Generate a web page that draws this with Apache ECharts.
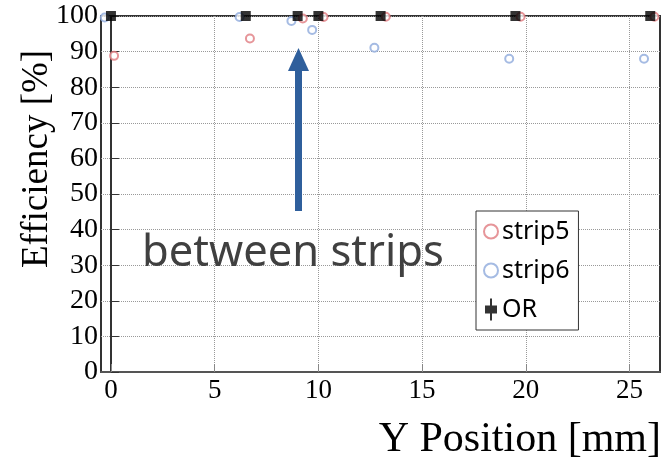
<!DOCTYPE html>
<html><head><meta charset="utf-8">
<script src="https://cdn.jsdelivr.net/npm/echarts@6/dist/echarts.min.js"></script>
<style>html,body{margin:0;padding:0;background:#fff}#c{width:664px;height:464px}</style>
</head><body><div id="c"></div>
<script>
const orX = [0, 6.5, 9, 10, 13, 19.5, 26];
const orY = [100, 100, 100, 100, 100, 100, 100];
const s5X = [0.15, 6.7, 9.25, 10.25, 13.25, 19.75, 26.2];
const s5Y = [88.8, 93.7, 99.3, 99.7, 99.8, 99.8, 99.8];
const s6X = [-0.3, 6.2, 8.7, 9.7, 12.7, 19.2, 25.7];
const s6Y = [99.6, 99.7, 98.6, 96.1, 91.1, 88.0, 88.0];
const xTicks = [0, 5, 10, 15, 20, 25];
const yTicks = [0, 10, 20, 30, 40, 50, 60, 70, 80, 90, 100];

const pairs = (xs, ys) => xs.map((x, i) => [x, ys[i]]);
const serif = 'Liberation Serif';
const red = '#e07a80', blue = '#8faadc';
const orIcon = 'path://M6,0L8,0L8,7L13,7L13,15L8,15L8,22L6,22L6,15L1,15L1,7L6,7Z';
const chart = echarts.init(document.getElementById('c'));
chart.setOption({
  animation: false,
  grid: {left: 101, top: 16, right: 4, bottom: 92, show: true, borderColor: '#333', borderWidth: 2,
         containLabel: false, outerBoundsMode: 'none'},
  xAxis: {
    type: 'value', min: -0.48, max: 26.47,
    axisLine: {lineStyle: {color: '#555', width: 2}},
    axisTick: {inside: true, length: 8, customValues: xTicks, lineStyle: {color: '#888'}},
    axisLabel: {customValues: xTicks, fontFamily: serif, fontSize: 27, color: '#000', margin: 5},
    splitLine: {show: true, lineStyle: {type: 'dotted', color: '#999'}}
  },
  yAxis: {
    type: 'value', min: 0, max: 100, interval: 10,
    axisLine: {lineStyle: {color: '#333', width: 2}},
    axisTick: {inside: true, length: 8, lineStyle: {color: '#333'}},
    axisLabel: {fontFamily: serif, fontSize: 28, color: '#000', margin: 3, showMinLabel: true, showMaxLabel: true, hideOverlap: false},
    splitLine: {show: true, lineStyle: {type: 'dotted', color: '#999'}}
  },
  legend: {
    orient: 'vertical', left: 476, top: 211,
    padding: [8, 9, 8, 7], itemGap: 14, itemWidth: 14, itemHeight: 22,
    borderColor: '#333', borderWidth: 1, backgroundColor: '#fff',
    textStyle: {fontFamily: 'Noto Sans', fontSize: 25, color: '#000', padding: [0, 0, 0, -1]},
    data: [
      {name: 'strip5', icon: 'emptyCircle'},
      {name: 'strip6', icon: 'emptyCircle'},
      {name: 'OR', icon: orIcon}
    ]
  },
  series: [
    {name: 'strip5', type: 'scatter', symbol: 'emptyCircle', symbolSize: 8, data: pairs(s5X, s5Y),
     itemStyle: {color: red, borderColor: red, borderWidth: 1}, z: 3},
    {name: 'strip6', type: 'scatter', symbol: 'emptyCircle', symbolSize: 8, data: pairs(s6X, s6Y),
     itemStyle: {color: blue, borderColor: blue, borderWidth: 1}, z: 3},
    {name: 'OR', type: 'scatter', symbol: 'rect', symbolSize: 10, data: pairs(orX, orY),
     itemStyle: {color: '#000'}, z: 5, clip: false}
  ],
  graphic: [
    {type: 'rect', shape: {x: 295, y: 68, width: 7, height: 143}, style: {fill: '#2f5f9c'}, z: 10},
    {type: 'polygon', shape: {points: [[298.5, 48], [288, 71], [309, 71]]}, style: {fill: '#2f5f9c'}, z: 10},
    {type: 'text', x: 142, y: 232, style: {text: 'between strips', fontFamily: 'Noto Sans', fontSize: 43.5, fill: '#404040'}, z: 10},
    {type: 'text', x: 37, y: 268, rotation: Math.PI / 2,
     style: {text: 'Efficiency [%]', fontFamily: serif, fontSize: 37, fill: '#000', align: 'left', verticalAlign: 'middle'}},
    {type: 'text', x: 661, y: 440,
     style: {text: 'Y Position [mm]', fontFamily: serif, fontSize: 42, fill: '#000', align: 'right', verticalAlign: 'middle'}}
  ]
});
</script>
</body></html>
